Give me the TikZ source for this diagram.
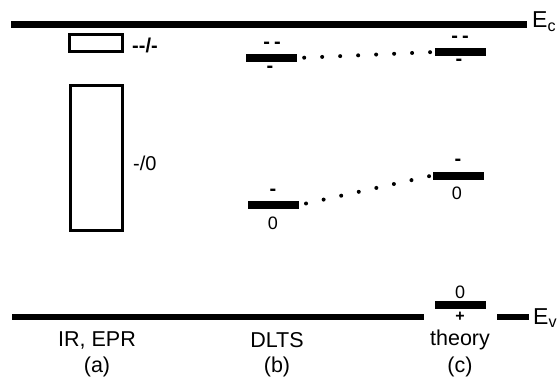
\documentclass[tikz,border=0pt]{standalone}
\usepackage{fontspec}
\setmainfont{Liberation Sans}
\begin{document}
\begin{tikzpicture}[x=1pt,y=-1pt,
  bar/.style={fill=black,inner sep=0pt,minimum width=51pt,minimum height=8pt},
  band/.style={line width=6.5pt},
  rangebox/.style={draw,line width=3pt,inner sep=0pt},
  lbl/.style={font=\fontsize{21.5}{24}\selectfont,inner sep=0pt},
  small/.style={font=\fontsize{18}{20}\selectfont,inner sep=0pt},
  charge/.style={font=\bfseries\fontsize{20}{20}\selectfont,inner sep=0pt},
  dots/.style={line width=4pt,line cap=round,dash pattern=on 0pt off 18pt}]
\useasboundingbox (0,0) rectangle (557,384);
% conduction band
\coordinate (ec0) at (11,24.5);
\coordinate (ec1) at (527,24.5);
\draw[band] (ec0) -- (ec1);
\node[lbl,font=\fontsize{23}{24}\selectfont,anchor=west] (Ec) at (532,22) {E\textsubscript{c}};
% valence band
\coordinate (ev0) at (12,317);
\coordinate (ev1) at (424,317);
\coordinate (ev2) at (497,317);
\coordinate (ev3) at (529,317);
\draw[band] (ev0) -- (ev1);
\draw[band] (ev2) -- (ev3);
\node[lbl,font=\fontsize{23}{24}\selectfont,anchor=west] (Ev) at (533,318) {E\textsubscript{v}};
% (a) IR, EPR
\node[rangebox,minimum width=53pt,minimum height=17pt] (boxA) at (95.5,43) {};
\node[charge,font=\bfseries\fontsize{20}{20}\selectfont,anchor=west] (la) at (132,45) {{-}{-}/{-}};
\node[rangebox,minimum width=52pt,minimum height=145pt] (boxB) at (96,157.5) {};
\node[small,font=\fontsize{20}{20}\selectfont,anchor=west] (lb) at (133,163) {-/0};
% (b) DLTS
\node[bar] (d1) at (271.5,58) {};
\node[charge] (d1a) at (272,45) {-\hspace{4pt}-};
\node[charge] (d1b) at (270,69) {-};
\node[bar] (d2) at (273.5,205) {};
\node[charge] (d2a) at (273,192) {-};
\node[small] (d2b) at (273,223) {0};
% (c) theory
\node[bar] (t1) at (460,52) {};
\node[charge] (t1a) at (460,39) {-\hspace{4pt}-};
\node[charge] (t1b) at (459,62) {-};
\node[bar] (t2) at (458,175.5) {};
\node[charge] (t2a) at (458,162) {-};
\node[small] (t2b) at (457,193) {0};
\node[bar] (t3) at (460.5,305) {};
\node[small] (t3a) at (460,292) {0};
\node[small,font=\bfseries\fontsize{16}{16}\selectfont] (t3b) at (460,317) {+};
% dotted connectors
\draw[dots,shorten <=7pt] (d1.east) -- (t1.west);
\draw[dots,shorten <=7pt] (d2.east) -- (t2.west);
% column labels
\node[lbl] (ca) at (97,340) {IR, EPR};
\node[lbl] (cap) at (97,367) {(a)};
\node[lbl] (cb) at (277,340) {DLTS};
\node[lbl] (cbp) at (277,367) {(b)};
\node[lbl] (cc) at (460,340) {theory};
\node[lbl] (ccp) at (460,367) {(c)};
\end{tikzpicture}
\end{document}
